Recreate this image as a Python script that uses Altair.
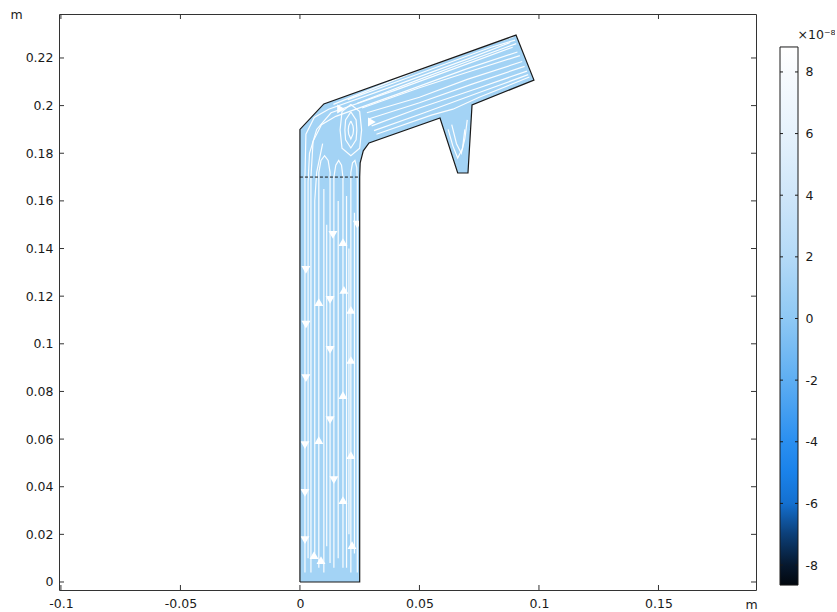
import altair as alt
import pandas as pd

FONT = "DejaVu Sans"
FS = 12.5

# axis ticks
x_ticks = [-0.1, -0.05, 0, 0.05, 0.1, 0.15]
y_ticks = [0, 0.02, 0.04, 0.06, 0.08, 0.1, 0.12, 0.14, 0.16, 0.18, 0.2, 0.22]
cbar_ticks = [-8, -6, -4, -2, 0, 2, 4, 6, 8]

# domain outline (metres)
outline_x = [0, 0, 0.010, 0.0904, 0.0979, 0.072, 0.0703, 0.066, 0.0586, 0.0289, 0.0265, 0.0252, 0.025, 0.025, 0]
outline_y = [0, 0.190, 0.2007, 0.2296, 0.2107, 0.2003, 0.1717, 0.1717, 0.1948, 0.1843, 0.181, 0.176, 0.170, 0, 0]

# internal boundary (dashed)
dash_x = [0, 0.025]
dash_y = [0.170, 0.170]

# streamlines
streamlines = [
    [(0.0021, 0.004), (0.0021, 0.170), (0.0025, 0.188), (0.006, 0.195), (0.012, 0.1985), (0.04, 0.2085), (0.07, 0.2195), (0.088, 0.2265)],
    [(0.0046, 0.004), (0.0046, 0.170), (0.0055, 0.185), (0.009, 0.192), (0.015, 0.1955), (0.04, 0.2045), (0.07, 0.2155), (0.091, 0.2225)],
    [(0.0034, 0.010), (0.0034, 0.168), (0.0040, 0.180), (0.0070, 0.190), (0.013, 0.197), (0.04, 0.2065), (0.07, 0.2175), (0.089, 0.2245)],
    [(0.0062, 0.012), (0.0062, 0.160), (0.0070, 0.172), (0.0095, 0.184)],
    [(0.0079, 0.006), (0.0079, 0.172), (0.0088, 0.177), (0.0103, 0.179), (0.0118, 0.177), (0.0126, 0.172), (0.0126, 0.008)],
    [(0.0100, 0.004), (0.0100, 0.165)],
    [(0.0112, 0.015), (0.0112, 0.150)],
    [(0.0142, 0.006), (0.0142, 0.170), (0.0150, 0.175), (0.0162, 0.177), (0.0174, 0.175), (0.0180, 0.170), (0.0180, 0.006)],
    [(0.0160, 0.010), (0.0160, 0.160)],
    [(0.0195, 0.006), (0.0195, 0.162)],
    [(0.0205, 0.020), (0.0205, 0.140)],
    [(0.0213, 0.004), (0.0213, 0.172), (0.0220, 0.176), (0.0230, 0.177), (0.0238, 0.174), (0.0240, 0.168), (0.0240, 0.004)],
    [(0.0228, 0.012), (0.0228, 0.155)],
    [(0.014, 0.2005), (0.05, 0.2150), (0.08, 0.2260), (0.0895, 0.2290)],
    [(0.020, 0.2025), (0.05, 0.2135), (0.08, 0.2245), (0.090, 0.2275)],
    [(0.024, 0.2010), (0.05, 0.2110), (0.07, 0.2185), (0.0905, 0.2260)],
    [(0.026, 0.1990), (0.05, 0.2075), (0.07, 0.2140), (0.092, 0.2210)],
    [(0.028, 0.197), (0.05, 0.2035), (0.07, 0.2110), (0.093, 0.2185)],
    [(0.029, 0.1945), (0.05, 0.2012), (0.072, 0.2090), (0.094, 0.2165)],
    [(0.030, 0.1915), (0.05, 0.1990), (0.075, 0.2075), (0.095, 0.2145)],
    [(0.031, 0.1895), (0.052, 0.1970), (0.075, 0.2055), (0.0955, 0.2130)],
    [(0.032, 0.1880), (0.055, 0.1960), (0.064, 0.1985), (0.075, 0.2035), (0.096, 0.2120)],
    [(0.0213, 0.1974), (0.0235, 0.194), (0.0238, 0.1898), (0.0235, 0.1856), (0.0213, 0.1822), (0.0191, 0.1856), (0.0188, 0.1898), (0.0191, 0.194), (0.0213, 0.1974)],
    [(0.0213, 0.2005), (0.0250, 0.1975), (0.0258, 0.1898), (0.0250, 0.1821), (0.0213, 0.1790), (0.0176, 0.1821), (0.0168, 0.1898), (0.0176, 0.1975), (0.0213, 0.2005)],
    [(0.0213, 0.1935), (0.0222, 0.1915), (0.0224, 0.1898), (0.0222, 0.1880), (0.0213, 0.1860), (0.0204, 0.1880), (0.0202, 0.1898), (0.0204, 0.1915), (0.0213, 0.1935)],
    [(0.062, 0.190), (0.064, 0.183), (0.066, 0.178), (0.068, 0.182), (0.069, 0.190)],
    [(0.0635, 0.192), (0.0655, 0.184), (0.0675, 0.180), (0.0690, 0.186), (0.0700, 0.194)],
]

# arrowheads on streamlines
arrows_down_x = [0.0025, 0.0025, 0.0025, 0.0021, 0.0021, 0.0021, 0.0138, 0.0126, 0.0126, 0.0126, 0.0142, 0.0240]
arrows_down_y = [0.131, 0.108, 0.0856, 0.0575, 0.0374, 0.0176, 0.1457, 0.1184, 0.0974, 0.068, 0.0428, 0.150]
arrows_up_x = [0.0079, 0.0079, 0.0088, 0.018, 0.0184, 0.018, 0.018, 0.0213, 0.0213, 0.0213, 0.0218, 0.0059]
arrows_up_y = [0.1175, 0.0596, 0.0092, 0.1427, 0.1226, 0.0785, 0.0344, 0.1142, 0.0932, 0.0533, 0.0155, 0.0113]
arrows_right_x = [0.0172, 0.0301]
arrows_right_y = [0.1986, 0.1931]

# colour bar (units of 1e-8)
cbar_lo, cbar_hi = -8.65, 8.81
cbar_stops = [(0.0, "#02070e"), (0.037, "#06182e"), (0.0945, "#0c3f78"), (0.152, "#1470d0"),
              (0.21, "#1a82ea"), (0.266, "#2a8ff0"), (0.381, "#5eaef2"), (0.495, "#8ec8f4"),
              (0.61, "#b4daf7"), (0.725, "#cfe6f9"), (0.839, "#e6f2fc"), (0.954, "#f8fbfe"), (1.0, "#ffffff")]

FILL = "#a3d3f5"
W, H = 697, 576
TXT = "#1a1a1a"

xscale = alt.Scale(domain=[-0.1008, 0.1908], nice=False, zero=False)
yscale = alt.Scale(domain=[-0.00336, 0.23846], nice=False, zero=False)

outline_df = pd.DataFrame({"x": outline_x, "y": outline_y, "i": list(range(len(outline_x)))})
rows = []
for k, line in enumerate(streamlines):
    for j, (px, py) in enumerate(line):
        rows.append({"id": k, "i": j, "x": px, "y": py})
stream_df = pd.DataFrame(rows)

common = dict(ticks=False, domain=False, grid=False, labelExpr="'' + datum.value",
              labelFont=FONT, labelFontSize=FS, labelColor=TXT,
              titleFont=FONT, titleFontSize=FS, titleFontWeight="normal", titleColor=TXT)

x_axis = alt.Axis(values=x_ticks, labelPadding=7, title="m", titleX=692, titleY=18,
                  titleAlign="center", titleBaseline="alphabetic", **common)
y_axis = alt.Axis(values=y_ticks, labelPadding=6, title="m", titleAngle=0, titleX=-43, titleY=4,
                  titleAlign="center", titleBaseline="alphabetic", **common)

base = alt.Chart(outline_df)

fill = base.mark_line(fill=FILL, stroke=FILL, strokeWidth=0).encode(
    x=alt.X("x:Q", scale=xscale, axis=x_axis),
    y=alt.Y("y:Q", scale=yscale, axis=y_axis),
    order="i:Q",
)

streams = alt.Chart(stream_df).mark_line(color="white", strokeWidth=1.2, opacity=0.95).encode(
    x=alt.X("x:Q", scale=xscale), y=alt.Y("y:Q", scale=yscale), detail="id:N", order="i:Q")

def arrow_layer(xs, ys, shape):
    return alt.Chart(pd.DataFrame({"x": xs, "y": ys})).mark_point(
        shape=shape, filled=True, color="white", opacity=1, size=80).encode(
        x=alt.X("x:Q", scale=xscale), y=alt.Y("y:Q", scale=yscale))

arrows = arrow_layer(arrows_down_x, arrows_down_y, "triangle-down") + \
    arrow_layer(arrows_up_x, arrows_up_y, "triangle-up") + \
    arrow_layer(arrows_right_x, arrows_right_y, "triangle-right")

outline = base.mark_line(color=TXT, strokeWidth=1.2).encode(
    x=alt.X("x:Q", scale=xscale), y=alt.Y("y:Q", scale=yscale), order="i:Q")

dashed = alt.Chart(pd.DataFrame({"x": dash_x, "y": dash_y})).mark_line(
    color=TXT, strokeWidth=1, strokeDash=[3, 2]).encode(
    x=alt.X("x:Q", scale=xscale), y=alt.Y("y:Q", scale=yscale))

xt = alt.Chart(pd.DataFrame({"v": x_ticks}))
yt = alt.Chart(pd.DataFrame({"v": y_ticks}))
tick_col = "#333333"
ticks = (
    xt.mark_rule(color=tick_col).encode(x=alt.X("v:Q", scale=xscale), y=alt.value(H), y2=alt.value(H - 5))
    + xt.mark_rule(color=tick_col).encode(x=alt.X("v:Q", scale=xscale), y=alt.value(0), y2=alt.value(5))
    + yt.mark_rule(color=tick_col).encode(y=alt.Y("v:Q", scale=yscale), x=alt.value(0), x2=alt.value(5))
    + yt.mark_rule(color=tick_col).encode(y=alt.Y("v:Q", scale=yscale), x=alt.value(W), x2=alt.value(W - 5))
)

main = alt.layer(fill, streams, arrows, outline, dashed, ticks).properties(
    width=W, height=H, view=alt.ViewBackground(stroke="#333333", strokeWidth=1))

# colour bar
cscale = alt.Scale(domain=[-8.81, 9.88], nice=False, zero=False)
grad = alt.Gradient(gradient="linear", x1=0, y1=1, x2=0, y2=0,
                    stops=[alt.GradientStop(offset=o, color=c) for o, c in cbar_stops])
c_axis = alt.Axis(orient="right", values=cbar_ticks, labelPadding=7, title="×10⁻⁸", titleAngle=0,
                  titleX=-1, titleY=24, titleAlign="left", titleBaseline="alphabetic", **common)
bar = alt.Chart(pd.DataFrame({"lo": [cbar_lo], "hi": [cbar_hi]})).mark_rect(
    color=grad, stroke=TXT, strokeWidth=1).encode(
    y=alt.Y("lo:Q", scale=cscale, axis=c_axis), y2="hi:Q", x=alt.value(0), x2=alt.value(18))
ct = alt.Chart(pd.DataFrame({"v": cbar_ticks}))
cticks = (
    ct.mark_rule(color=TXT).encode(y=alt.Y("v:Q", scale=cscale), x=alt.value(0), x2=alt.value(3))
    + ct.mark_rule(color=TXT).encode(y=alt.Y("v:Q", scale=cscale), x=alt.value(15), x2=alt.value(18))
)
cbar = alt.layer(bar, cticks).properties(width=18, height=H)

chart = alt.hconcat(main, cbar, spacing=24, bounds="flush").properties(
    padding={"left": 9, "top": 7, "right": 0, "bottom": 0},
    background="white",
).configure_view(stroke=None)

chart.save("out.html", embed_options={"renderer": "svg", "actions": False})
